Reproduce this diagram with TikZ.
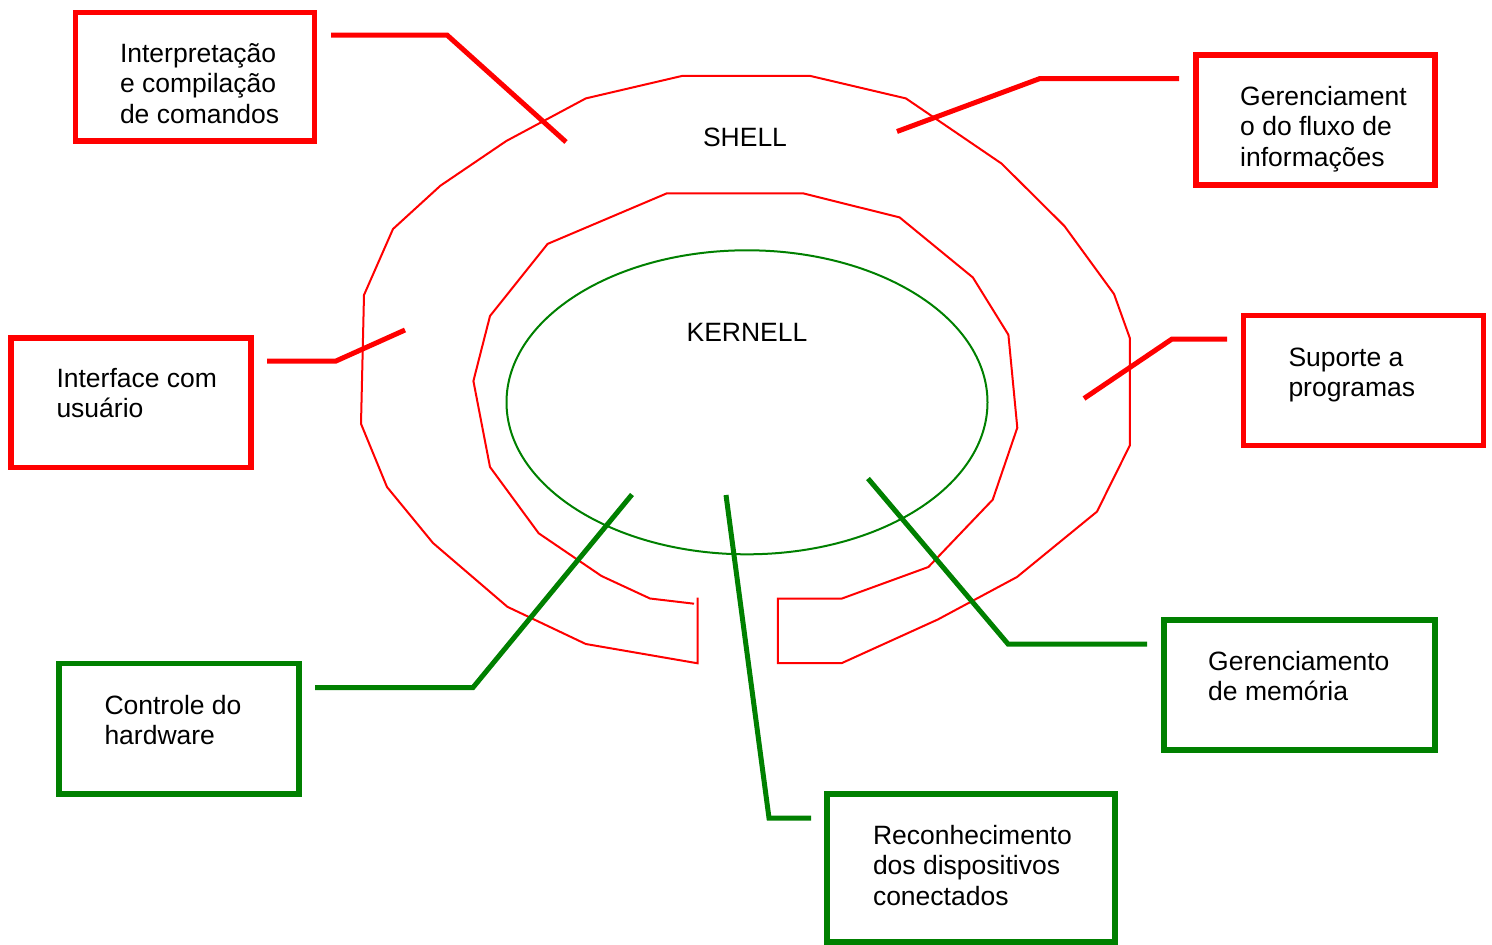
\documentclass[tikz,border=0pt]{standalone}
\usepackage{fontspec}
\setmainfont{Liberation Sans}
\usetikzlibrary{shapes.geometric}
\definecolor{myred}{RGB}{255,0,0}
\definecolor{mygreen}{RGB}{0,128,0}
\begin{document}
\begin{tikzpicture}[x=1pt,y=-1pt,
  redbox/.style={draw=myred,line width=5.5pt,inner sep=0pt,outer sep=0pt},
  greenbox/.style={draw=mygreen,line width=5.5pt,inner sep=0pt,outer sep=0pt},
  lbl/.style={anchor=base west,align=left,inner sep=0pt,font=\fontsize{26.5}{30.4}\selectfont},
  title/.style={anchor=base,inner sep=0pt,font=\fontsize{26.5}{30.4}\selectfont},
  redlead/.style={draw=myred,line width=5pt},
  greenlead/.style={draw=mygreen,line width=5pt},
  ring/.style={draw=myred,line width=2pt,line join=miter}]
\useasboundingbox (0,0) rectangle (1492,945);

% ring (shell)
\draw[ring] (697.7,597.7) -- (697.7,663.3) -- (585.8,644) -- (507.4,606.8) -- (433,543)
  -- (387,487) -- (361,423.8) -- (364,295) -- (393,229) -- (440.4,185.7) -- (506.3,141)
  -- (585.8,98.4) -- (682.6,75.8) -- (809.7,75.8) -- (905.9,98.4) -- (1001.6,163.6)
  -- (1064.4,226) -- (1114,294) -- (1129.8,338) -- (1129.8,445.5) -- (1097,511.6)
  -- (1017,577) -- (937.8,619.5) -- (842,663) -- (777.8,663) -- (777.8,598.5)
  -- (842,598.5) -- (928.4,567) -- (992.7,499.7) -- (1017.3,427.7) -- (1008.4,334.8)
  -- (972.9,277.5) -- (899.6,217.4) -- (802.9,193.3) -- (666.9,193.3) -- (547.6,243.9)
  -- (490,316) -- (473.4,381) -- (490,467) -- (538.7,533.3) -- (601.5,576)
  -- (650,598.5) -- (694,603.7);

% kernel
\node[draw=mygreen,line width=2pt,ellipse,inner sep=0pt,minimum width=481pt,minimum height=304pt] (kernel) at (747,402.3) {};

\node[title] (shell) at (745,146.5) {SHELL};
\node[title] (kern) at (747,341.5) {KERNELL};

% boxes
\node[redbox,minimum width=239pt,minimum height=128.5pt] (b1) at (195,76.75) {};
\node[redbox,minimum width=240pt,minimum height=129.5pt] (b2) at (131,402.75) {};
\node[redbox,minimum width=239pt,minimum height=130pt] (b3) at (1315.5,120) {};
\node[redbox,minimum width=240pt,minimum height=130pt] (b4) at (1363.5,380.5) {};
\node[greenbox,minimum width=240pt,minimum height=130.5pt] (b5) at (179,728.75) {};
\node[greenbox,minimum width=288pt,minimum height=148pt] (b6) at (971,868) {};
\node[greenbox,minimum width=271pt,minimum height=130pt] (b7) at (1299.5,685) {};

% labels (anchored at the baseline of the last line)
\node[lbl] (t1) at (119.8,123) {Interpretação\\e compilação\\de comandos};
\node[lbl] (t2) at (56.3,417.8) {Interface com\\usuário};
\node[lbl] (t3) at (1240,166) {Gerenciament\\o do fluxo de\\informações};
\node[lbl] (t4) at (1288.3,396.6) {Suporte a\\programas};
\node[lbl] (t5) at (104.3,744.4) {Controle do\\hardware};
\node[lbl] (t6) at (872.8,905.2) {Reconhecimento\\dos dispositivos\\conectados};
\node[lbl] (t7) at (1208,700.6) {Gerenciamento\\de memória};

% leader coordinates
\coordinate (a1) at (331,35);   \coordinate (m1) at (447,35);   \coordinate (e1) at (566,142);
\coordinate (a2) at (1179,78.5);\coordinate (m2) at (1040,78.5);\coordinate (e2) at (897,131.5);
\coordinate (a3) at (267,361);  \coordinate (m3) at (336,361);  \coordinate (e3) at (405,330);
\coordinate (a4) at (1227,339); \coordinate (m4) at (1172,339); \coordinate (e4) at (1084,398.5);
\coordinate (a5) at (315,687.5);\coordinate (m5) at (473,687.5);\coordinate (e5) at (632,494.5);
\coordinate (a6) at (811,818);  \coordinate (m6) at (769,818);  \coordinate (e6) at (726,495);
\coordinate (a7) at (1147,644); \coordinate (m7) at (1008,644); \coordinate (e7) at (868,478.5);

\draw[redlead] (a1) -- (m1) -- (e1);
\draw[redlead] (a2) -- (m2) -- (e2);
\draw[redlead] (a3) -- (m3) -- (e3);
\draw[redlead] (a4) -- (m4) -- (e4);
\draw[greenlead] (a5) -- (m5) -- (e5);
\draw[greenlead] (a6) -- (m6) -- (e6);
\draw[greenlead] (a7) -- (m7) -- (e7);
\end{tikzpicture}
\end{document}
